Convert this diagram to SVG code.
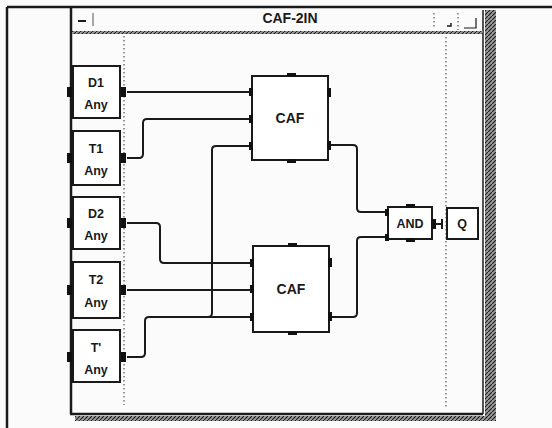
<svg xmlns="http://www.w3.org/2000/svg" width="552" height="428" viewBox="0 0 552 428">
<defs>
<pattern id="hatch" width="4" height="4" patternUnits="userSpaceOnUse">
<rect width="4" height="4" fill="#9a9a9a"/>
<path d="M0,4 L4,0" stroke="#222" stroke-width="1.2"/>
</pattern>
</defs>
<style>
.box{fill:#fff;stroke:#1a1a1a;stroke-width:2}
.port{fill:#111}
.wire{fill:none;stroke:#1a1a1a;stroke-width:2;stroke-linejoin:round}
.frame{fill:none;stroke:#1a1a1a;stroke-width:2.5}
.dot{fill:none;stroke:#555;stroke-width:1.2;stroke-dasharray:1.5 2.5}
text{font-family:"Liberation Sans",Arial,sans-serif;fill:#1a1a1a;text-anchor:middle;font-weight:bold}
.lbl{font-size:12.5px}
.big{font-size:14px}
</style>
<rect width="552" height="428" fill="#fbfbfb"/>
<!-- outer frame -->
<line x1="7" y1="7" x2="552" y2="7" class="frame"/>
<line x1="7" y1="7" x2="7" y2="428" class="frame"/>
<!-- window -->
<line x1="71" y1="7" x2="71" y2="414" class="frame"/>
<line x1="70" y1="414" x2="483" y2="414" class="frame"/>
<line x1="483" y1="10" x2="483" y2="414" stroke="#1a1a1a" stroke-width="1.5"/>
<rect x="485" y="10" width="11" height="410" fill="url(#hatch)"/>
<rect x="75" y="416" width="421" height="5" fill="url(#hatch)"/>
<rect x="72" y="31" width="411" height="3" fill="url(#hatch)"/>
<!-- title bar -->
<g id="titlebar">
<text x="290" y="23" class="big">CAF-2IN</text>
<line x1="78" y1="21" x2="86" y2="21" stroke="#1a1a1a" stroke-width="2"/>
<line x1="93" y1="13" x2="93" y2="26" stroke="#555" stroke-width="1"/>
<line x1="434" y1="13" x2="434" y2="28" class="dot"/>
<path d="M447,26 L451,26 L451,23" fill="none" stroke="#1a1a1a" stroke-width="1.5"/>
<line x1="458" y1="13" x2="458" y2="30" class="dot"/>
<path d="M464,28 L476,28 L476,18" fill="none" stroke="#1a1a1a" stroke-width="1.2"/>
</g>
<!-- dotted guides -->
<line x1="124" y1="36" x2="124" y2="405" class="dot"/>
<line x1="446" y1="37" x2="446" y2="408" class="dot"/>
<!-- connectors -->
<g id="connectors">
<path class="wire" d="M127,92 L251,92"/>
<path class="wire" d="M127,158 L139,158 Q143,158 143,154 L143,123 Q143,119 147,119 L251,119"/>
<path class="wire" d="M251,146 L216,146 Q212,146 212,150 L212,313 Q212,317 208,317"/>
<path class="wire" d="M127,357 L141,357 Q145,357 145,353 L145,321 Q145,317 149,317 L253,317"/>
<path class="wire" d="M127,223 L156,223 Q160,223 160,227 L160,259 Q160,263 164,263 L253,263"/>
<path class="wire" d="M127,290 L253,290"/>
<path class="wire" d="M329,145 L353,145 Q357,145 357,149 L357,208 Q357,212 361,212 L388,212"/>
<path class="wire" d="M329,317 L353,317 Q357,317 357,313 L357,241 Q357,237 361,237 L388,237"/>
<path class="wire" d="M436,224 L442,224"/>
<line x1="442" y1="219" x2="442" y2="229" stroke="#1a1a1a" stroke-width="2"/>
</g>
<!-- input nodes -->
<g id="D1">
<rect class="box" x="73" y="66" width="47" height="52"/>
<rect class="port" x="67" y="87" width="5" height="10"/>
<rect class="port" x="121" y="87" width="5" height="10"/>
<text x="96" y="87" class="lbl">D1</text><text x="96" y="109" class="lbl">Any</text>
</g>
<g id="T1">
<rect class="box" x="73" y="131" width="47" height="54"/>
<rect class="port" x="67" y="153" width="5" height="10"/>
<rect class="port" x="121" y="153" width="5" height="10"/>
<text x="96" y="153" class="lbl">T1</text><text x="96" y="175" class="lbl">Any</text>
</g>
<g id="D2">
<rect class="box" x="73" y="197" width="47" height="52"/>
<rect class="port" x="67" y="218" width="5" height="10"/>
<rect class="port" x="121" y="218" width="5" height="10"/>
<text x="96" y="218" class="lbl">D2</text><text x="96" y="240" class="lbl">Any</text>
</g>
<g id="T2">
<rect class="box" x="73" y="262" width="47" height="56"/>
<rect class="port" x="67" y="285" width="5" height="10"/>
<rect class="port" x="121" y="285" width="5" height="10"/>
<text x="96" y="284" class="lbl">T2</text><text x="96" y="307" class="lbl">Any</text>
</g>
<g id="Tp">
<rect class="box" x="73" y="330" width="47" height="52"/>
<rect class="port" x="67" y="352" width="5" height="10"/>
<rect class="port" x="121" y="352" width="5" height="10"/>
<text x="96" y="352" class="lbl">T'</text><text x="96" y="374" class="lbl">Any</text>
</g>
<!-- CAF 1 -->
<g id="CAF1">
<rect class="box" x="252" y="76" width="76" height="84"/>
<rect class="port" x="249" y="88" width="4" height="8"/>
<rect class="port" x="249" y="115" width="4" height="8"/>
<rect class="port" x="249" y="142" width="4" height="8"/>
<rect class="port" x="327" y="88" width="4" height="9"/>
<rect class="port" x="327" y="141" width="4" height="9"/>
<rect class="port" x="287" y="73" width="9" height="4"/>
<rect class="port" x="287" y="159" width="9" height="4"/>
<text x="290" y="123" class="big">CAF</text>
</g>
<!-- CAF 2 -->
<g id="CAF2">
<rect class="box" x="253" y="246" width="76" height="86"/>
<rect class="port" x="250" y="259" width="4" height="8"/>
<rect class="port" x="250" y="285" width="4" height="8"/>
<rect class="port" x="250" y="313" width="4" height="8"/>
<rect class="port" x="328" y="258" width="4" height="9"/>
<rect class="port" x="328" y="312" width="4" height="9"/>
<rect class="port" x="288" y="243" width="9" height="4"/>
<rect class="port" x="288" y="331" width="9" height="4"/>
<text x="291" y="294" class="big">CAF</text>
</g>
<!-- AND -->
<g id="AND">
<rect class="box" x="388" y="207" width="44" height="32"/>
<rect class="port" x="385" y="209" width="4" height="7"/>
<rect class="port" x="385" y="234" width="4" height="7"/>
<rect class="port" x="431" y="219" width="5" height="10"/>
<rect class="port" x="406" y="204" width="9" height="4"/>
<rect class="port" x="406" y="238" width="9" height="4"/>
<text x="410" y="228" class="lbl">AND</text>
</g>
<!-- Q -->
<g id="Q">
<rect class="box" x="447" y="208" width="31" height="31"/>
<text x="462" y="228" class="lbl">Q</text>
</g>
</svg>
